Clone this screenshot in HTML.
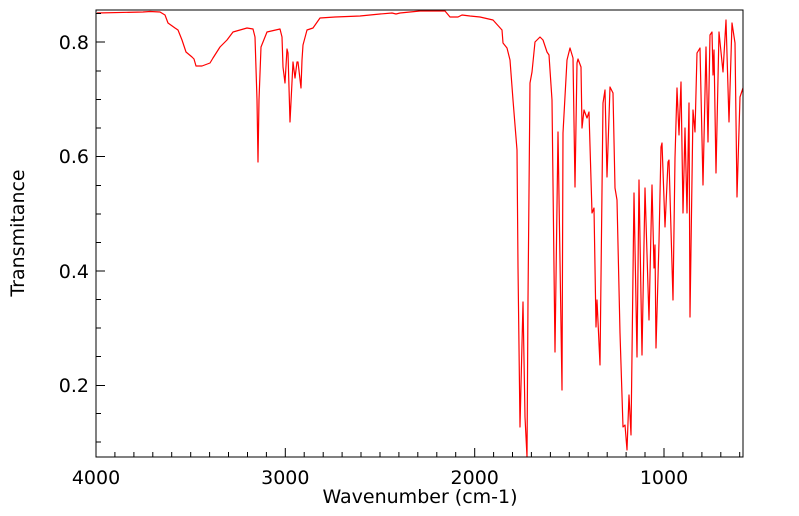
<!DOCTYPE html>
<html><head><meta charset="utf-8"><style>
html,body{margin:0;padding:0;background:#fff;}
svg{display:block;font-family:"DejaVu Sans","Liberation Sans",sans-serif;}
</style></head><body>
<svg width="799" height="516" viewBox="0 0 799 516" xmlns="http://www.w3.org/2000/svg">
<rect x="0" y="0" width="799" height="516" fill="#fff"/>
<polyline fill="none" stroke="#ff0000" stroke-width="1.2" stroke-linejoin="round" points="
97,13 143,12 150,11.5 160,12 165,15 168,23 175,28 178,30 182,40 186,52 192,57 194,59 196,66 202,66 210,63 213,58 220,47 227,40 233,32 247,28 253,29 255,37 257,100 258,162 259,100 261,47 267,32 280,29 282,37 283,67 285,83 287,49 288,53 290,122 292,82 293,62 295,78 297,62 298,62 301,88 302,60 303,45 307,30 313,28 320,18 335,17 360,16 380,14 392,13 396,14 400,13 420,11 445,11 450,17 458,17 462,15 470,16 480,17 493,20 502,30 503,43 507,48 510,60 513,100 517,150 518,267 520,427 523,302 525,417 527,457 528,300 530,83 532,72 535,42 540,37 543,40 547,52 549,55 552,100 555,352 558,132 562,390 563,133 567,60 570,48 573,58 575,187 577,63 578,59 581,67 582,128 584,110 587,118 589,112 592,213 594,208 596,327 597,300 600,365 603,103 605,90 607,177 610,87 613,93 615,188 617,200 620,333 623,427 625,425 627,450 629,395 631,435 634,193 637,357 639,180 642,355 645,188 649,320 652,185 654,268 655,245 656,348 659,242 661,147 662,143 665,227 668,162 669,160 673,300 675,158 677,88 679,135 681,82 683,213 685,128 687,213 689,103 690,317 693,110 695,132 697,53 700,48 703,185 706,47 708,142 710,35 712,32 713,75 714,50 716,173 719,32 723,72 726,20 729,122 732,23 735,43 737,197 740,97 743,88"/>
<rect x="96" y="10" width="647" height="447" fill="none" stroke="#000" stroke-width="1"/>
<g stroke="#000" stroke-width="1">
<path d="M96,457v-9M285.3,457v-9M474.7,457v-9M664,457v-9"/>
<path d="M114.9,457v-5M133.9,457v-5M152.8,457v-5M171.7,457v-5M190.7,457v-5M209.6,457v-5M228.5,457v-5M247.5,457v-5M266.4,457v-5M304.2,457v-5M323.2,457v-5M342.1,457v-5M361,457v-5M380,457v-5M398.9,457v-5M417.8,457v-5M436.8,457v-5M455.7,457v-5M493.6,457v-5M512.5,457v-5M531.4,457v-5M550.4,457v-5M569.3,457v-5M588.2,457v-5M607.2,457v-5M626.1,457v-5M645,457v-5M682.9,457v-5M701.9,457v-5M720.8,457v-5M739.7,457v-5"/>
<path d="M96,42h9M96,156.5h9M96,271h9M96,385.5h9"/>
<path d="M96,442h5M96,413.5h5M96,356.5h5M96,328h5M96,299.5h5M96,242.5h5M96,214h5M96,185.5h5M96,128h5M96,99.5h5M96,71h5M96,13.5h5"/>
</g>
<g font-size="19" fill="#000">
<text x="96" y="484" text-anchor="middle">4000</text>
<text x="285.3" y="484" text-anchor="middle">3000</text>
<text x="474.7" y="484" text-anchor="middle">2000</text>
<text x="664" y="484" text-anchor="middle">1000</text>
<text x="89" y="49" text-anchor="end">0.8</text>
<text x="89" y="163" text-anchor="end">0.6</text>
<text x="89" y="278" text-anchor="end">0.4</text>
<text x="89" y="392" text-anchor="end">0.2</text>
<text x="420" y="503" text-anchor="middle">Wavenumber (cm-1)</text>
<text x="24" y="233" text-anchor="middle" transform="rotate(-90 24 233)">Transmitance</text>
</g>
</svg>
</body></html>
